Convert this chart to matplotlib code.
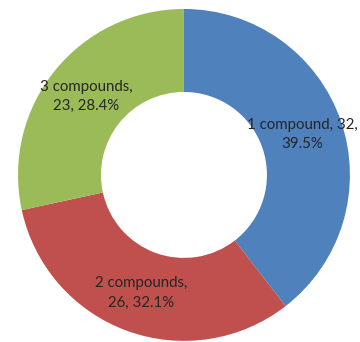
import numpy as np
import matplotlib.pyplot as plt

categories = ['1 compound', '2 compounds', '3 compounds']
counts = [32, 26, 23]
colors = ['#4F81BD', '#C0504D', '#9BBB59']
# line breaks inside each data label
label_lines = [('1 compound, 32,', '39.5%'),
               ('2 compounds,', '26, 32.1%'),
               ('3 compounds,', '23, 28.4%')]

fig = plt.figure(figsize=(3.6, 3.42), dpi=100)
ax = fig.add_axes([0.05, 0.003, 0.922, 0.971])

wedges, _ = ax.pie(counts, colors=colors, startangle=90, counterclock=False,
                   radius=1.0, wedgeprops=dict(width=0.5, linewidth=0))

for w, lines in zip(wedges, label_lines):
    mid = np.deg2rad((w.theta1 + w.theta2) / 2)
    r = 0.755
    ax.text(r * np.cos(mid), r * np.sin(mid), '\n'.join(lines),
            ha='center', va='center', fontsize=10.8, family=['Lato', 'DejaVu Sans'],
            color='#262626', linespacing=1.5)

ax.set_xlim(-1, 1)
ax.set_ylim(-1, 1)
ax.set_aspect('equal')
ax.axis('off')

fig.savefig('out.png', dpi=100)
